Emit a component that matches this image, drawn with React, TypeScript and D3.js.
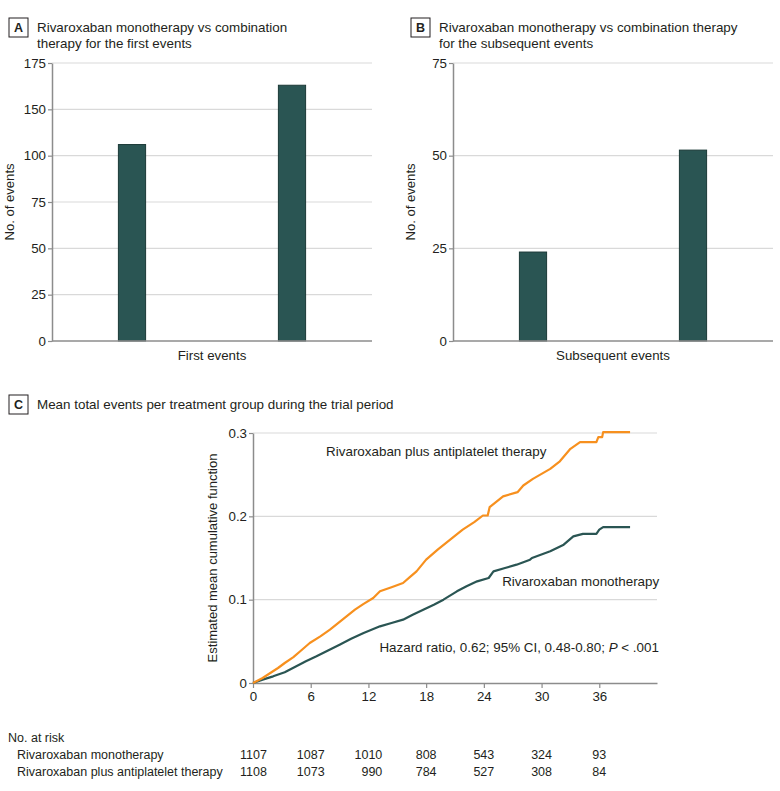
import React, { useEffect, useRef } from 'react';
import * as d3 from 'd3';

const groups = ['Rivaroxaban monotherapy', 'Rivaroxaban plus antiplatelet therapy'];

// Panel A: the printed axis skips 125, so the labels sit on evenly spaced ticks
const firstTicks = [0, 25, 50, 75, 100, 125, 150];
const firstTickLabels = ['0', '25', '50', '75', '100', '150', '175'];
const firstEvents = [106, 138];

// Panel B
const subsTicks = [0, 25, 50, 75];
const subsEvents = [24, 51.5];

// Panel C: [month, mean cumulative function]
const monoCurve = [
  [0, 0], [1.0, 0.004], [2.1, 0.008], [3.3, 0.013], [4.5, 0.02], [5.5, 0.026], [6.6, 0.032],
  [7.8, 0.039], [9.0, 0.046], [10.2, 0.053], [11.5, 0.06], [13.2, 0.068], [14.4, 0.072],
  [15.6, 0.076], [16.6, 0.082], [17.7, 0.088], [18.8, 0.094], [19.8, 0.1], [21.2, 0.11],
  [22.2, 0.116], [23.3, 0.122], [24.5, 0.126], [25.0, 0.134], [26.2, 0.138], [27.4, 0.142],
  [28.8, 0.148], [29.0, 0.15], [30.9, 0.158], [32.3, 0.166], [33.3, 0.176], [34.3, 0.179],
  [35.7, 0.179], [36.0, 0.184], [36.4, 0.187], [39.2, 0.187],
];
const comboCurve = [
  [0, 0], [1.0, 0.006], [1.8, 0.012], [2.6, 0.018], [3.3, 0.024], [4.2, 0.031], [5.0, 0.039],
  [5.9, 0.048], [7.0, 0.056], [8.0, 0.064], [9.3, 0.076], [10.6, 0.088], [11.5, 0.095],
  [12.5, 0.102], [13.2, 0.11], [14.4, 0.115], [15.6, 0.12], [16.3, 0.127], [17.0, 0.134],
  [18.0, 0.148], [19.2, 0.16], [20.5, 0.172], [21.8, 0.184], [23.0, 0.193], [23.9, 0.201],
  [24.4, 0.201], [24.6, 0.211], [26.0, 0.224], [27.5, 0.229], [28.1, 0.237], [29.1, 0.245],
  [30.9, 0.257], [31.9, 0.266], [33.0, 0.281], [34.0, 0.289], [35.7, 0.289], [35.9, 0.295],
  [36.3, 0.295], [36.4, 0.301], [39.2, 0.301],
];
const monthTicks = [0, 6, 12, 18, 24, 30, 36];
const mcfTicks = [0, 0.1, 0.2, 0.3];

// No. at risk
const atRiskMono = [1107, 1087, 1010, 808, 543, 324, 93];
const atRiskCombo = [1108, 1073, 990, 784, 527, 308, 84];

const INK = '#231f20';
const AXIS = '#8c8c8c';
const GRID = '#d9d9d9';
const TEAL = '#2a5553';
const ORANGE = '#f7901e';
const FONT = '"Liberation Sans", Arial, sans-serif';

const App = () => {
  const ref = useRef<SVGSVGElement>(null);

  useEffect(() => {
    const svg = d3.select(ref.current);
    svg.selectAll('*').remove();

    const text = (x: number, y: number, s: string, size = 13, anchor = 'start') =>
      svg.append('text')
        .attr('x', x).attr('y', y)
        .attr('font-size', size)
        .attr('text-anchor', anchor)
        .attr('fill', INK)
        .text(s);

    const styleAxis = (g: any) => {
      g.attr('font-family', FONT).attr('font-size', 13.3);
      g.select('.domain').attr('stroke', AXIS).attr('stroke-width', 1.5);
      g.selectAll('.tick line').attr('stroke', AXIS).attr('stroke-width', 1.2);
      g.selectAll('.tick text').attr('fill', INK);
    };

    const header = (x: number, y: number, letter: string, lines: string[]) => {
      svg.append('rect')
        .attr('x', x).attr('y', y).attr('width', 19).attr('height', 19)
        .attr('fill', 'none').attr('stroke', INK).attr('stroke-width', 1);
      text(x + 9.5, y + 14, letter, 12.5, 'middle').attr('font-weight', 700);
      lines.forEach((l, i) => text(x + 28, y + 14 + i * 16, l, 13.4));
    };

    // bar panels A and B
    const barPanel = (left: number, right: number, ticks: number[], labels: string[],
      values: number[], xLabel: string, yLabelX: number) => {
      const top = 63, bottom = 341;
      const y = d3.scaleLinear().domain([0, d3.max(ticks) as number]).range([bottom, top]);
      const x = d3.scaleBand().domain(groups).range([left, right])
        .paddingInner(0.83).paddingOuter(0.415);

      svg.append('g')
        .selectAll('line')
        .data(ticks.filter(d => d > 0))
        .enter()
        .append('line')
        .attr('x1', left).attr('x2', right)
        .attr('y1', d => y(d)).attr('y2', d => y(d))
        .attr('stroke', GRID).attr('stroke-width', 1.2);

      svg.append('g')
        .selectAll('rect')
        .data(values)
        .enter()
        .append('rect')
        .attr('x', (d, i) => x(groups[i]) as number)
        .attr('y', d => y(d))
        .attr('width', x.bandwidth())
        .attr('height', d => bottom - y(d))
        .attr('fill', TEAL)
        .attr('stroke', '#1b3937').attr('stroke-width', 1);

      svg.append('g')
        .attr('transform', `translate(${left},0)`)
        .call(d3.axisLeft(y).tickValues(ticks).tickFormat((d, i) => labels[i])
          .tickSize(4).tickPadding(2).tickSizeOuter(0))
        .call(styleAxis);

      svg.append('line')
        .attr('x1', left).attr('x2', right).attr('y1', bottom).attr('y2', bottom)
        .attr('stroke', AXIS).attr('stroke-width', 1.5);

      text((left + right) / 2, 360, xLabel, 13.3, 'middle');
      text(0, 0, 'No. of events', 13.1, 'middle')
        .attr('transform', `translate(${yLabelX},${(top + bottom) / 2}) rotate(-90)`);
    };

    header(9, 18, 'A', ['Rivaroxaban monotherapy vs combination', 'therapy for the first events']);
    header(411, 18, 'B', ['Rivaroxaban monotherapy vs combination therapy', 'for the subsequent events']);
    barPanel(52, 372, firstTicks, firstTickLabels, firstEvents, 'First events', 14);
    barPanel(453, 773, subsTicks, subsTicks.map(String), subsEvents, 'Subsequent events', 415);

    // panel C
    header(9, 395, 'C', ['Mean total events per treatment group during the trial period']);

    const x = d3.scaleLinear().domain([0, 42]).range([253, 657]);
    const y = d3.scaleLinear().domain([0, 0.3]).range([683, 433]);

    svg.append('g')
      .selectAll('line')
      .data(mcfTicks.filter(d => d > 0))
      .enter()
      .append('line')
      .attr('x1', x(0)).attr('x2', x(42))
      .attr('y1', d => y(d)).attr('y2', d => y(d))
      .attr('stroke', GRID).attr('stroke-width', 1.2);

    svg.append('g')
      .attr('transform', `translate(0,${y(0)})`)
      .call(d3.axisBottom(x).tickValues(monthTicks).tickSize(5).tickPadding(4).tickSizeOuter(0))
      .call(styleAxis);

    svg.append('g')
      .attr('transform', `translate(${x(0)},0)`)
      .call(d3.axisLeft(y).tickValues(mcfTicks)
        .tickFormat(d => (+d === 0 ? '0' : d3.format('.1f')(+d)))
        .tickSize(4).tickPadding(2).tickSizeOuter(0))
      .call(styleAxis);

    const line = d3.line<number[]>().x(d => x(d[0])).y(d => y(d[1]));
    [[monoCurve, TEAL], [comboCurve, ORANGE]].forEach(([data, color]) => {
      svg.append('path')
        .datum(data as number[][])
        .attr('d', line)
        .attr('fill', 'none')
        .attr('stroke', color as string)
        .attr('stroke-width', 2.2)
        .attr('stroke-linejoin', 'round');
    });

    text(0, 0, 'Estimated mean cumulative function', 13, 'middle')
      .attr('transform', `translate(217,${(y(0) + y(0.3)) / 2}) rotate(-90)`);

    text(x(7.6), y(0.272), groups[1], 13.4);
    text(x(25.9), y(0.117), groups[0], 13.4);
    const hr = text(x(42.2), y(0.037), 'Hazard ratio, 0.62; 95% CI, 0.48-0.80; ', 13.4, 'end');
    hr.append('tspan').attr('font-style', 'italic').text('P');
    hr.append('tspan').text(' < .001');

    // No. at risk table
    text(8, 742, 'No. at risk', 12.5);
    const digitW = 6.95;
    [atRiskMono, atRiskCombo].forEach((row, r) => {
      const yy = 759 + r * 17;
      text(17, yy, groups[r], 12.5);
      row.forEach((n, i) => {
        const w = Math.max(String(atRiskMono[i]).length, String(atRiskCombo[i]).length) * digitW;
        text(x(monthTicks[i]) + w / 2, yy, String(n), 12.5, 'end');
      });
    });
  }, []);

  return (
    <svg
      ref={ref}
      width={780}
      height={791}
      style={{ position: 'absolute', left: 0, top: 0, background: '#fff', fontFamily: FONT }}
    />
  );
};

export default App;
